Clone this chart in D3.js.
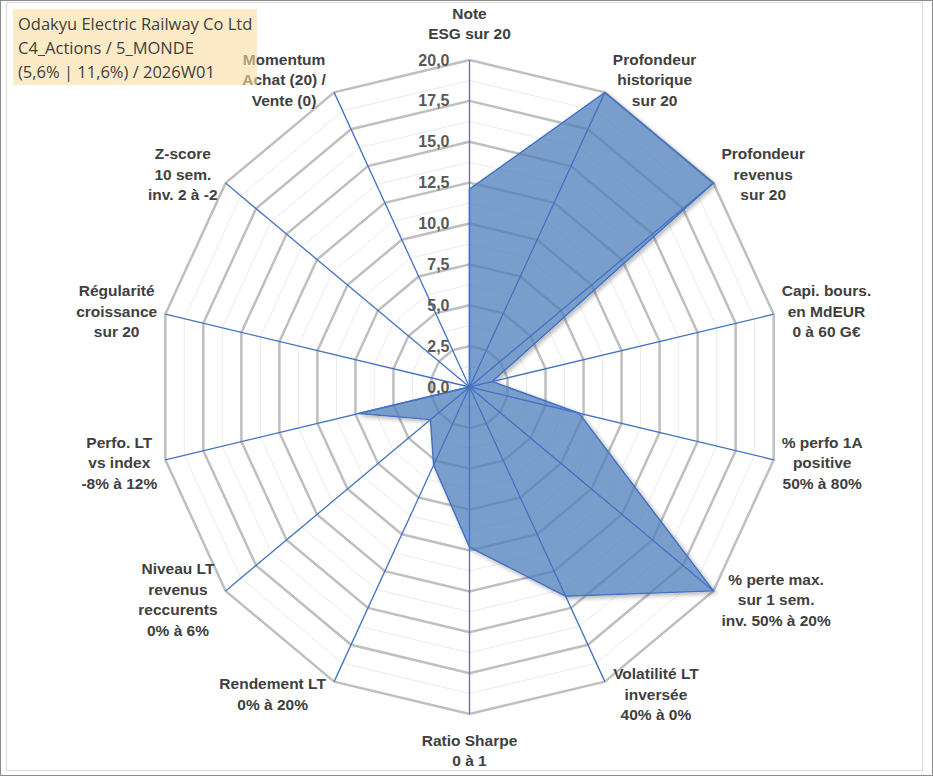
<!DOCTYPE html>
<html>
<head>
<meta charset="utf-8">
<script src="https://cdn.jsdelivr.net/npm/d3@7"></script>
<style>
  html, body { margin: 0; padding: 0; background: #fff; }
  svg { display: block; }
  .axis-label { font-family: "Liberation Sans", Arial, sans-serif; font-weight: bold; font-size: 15.5px; fill: #404040; }
  .tick-label { font-family: "Liberation Sans", Arial, sans-serif; font-weight: bold; font-size: 16px; fill: #595959; }
  .title-text { font-family: "Open Sans", sans-serif; font-size: 16.5px; fill: #404040; }
</style>
</head>
<body>
<div id="visualization"></div>
<script>
// axis names, clockwise from the top
const axisNames = [
  ['Note', 'ESG sur 20'],
  ['Profondeur', 'historique', 'sur 20'],
  ['Profondeur', 'revenus', 'sur 20'],
  ['Capi. bours.', 'en MdEUR', '0 à 60 G€'],
  ['% perfo 1A', 'positive', '50% à 80%'],
  ['% perte max.', 'sur 1 sem.', 'inv. 50% à 20%'],
  ['Volatilité LT', 'inversée', '40% à 0%'],
  ['Ratio Sharpe', '0 à 1'],
  ['Rendement LT', '0% à 20%'],
  ['Niveau LT', 'revenus', 'reccurents', '0% à 6%'],
  ['Perfo. LT', 'vs index', '-8% à 12%'],
  ['Régularité', 'croissance', 'sur 20'],
  ['Z-score', '10 sem.', 'inv. 2 à -2'],
  ['Momentum', 'Achat (20) /', 'Vente (0)']
];

// scores (0-20)
const scores = [12.1, 20, 20, 1.5, 7.2, 20, 14.2, 9.8, 5.3, 3.2, 7.3, 0, 0, 0];

const tickValues = [0, 2.5, 5, 7.5, 10, 12.5, 15, 17.5, 20];
const minorValues = [1.25, 3.75, 6.25, 8.75, 11.25, 13.75, 16.25, 18.75];

const titleLines = ['Odakyu Electric Railway Co Ltd', 'C4_Actions / 5_MONDE', '(5,6% | 11,6%) / 2026W01'];

const width = 933, height = 776;
const cx = 469.5, cy = 387;
const n = axisNames.length;

// the plot is a little narrower than tall
const rX = d3.scaleLinear().domain([0, 20]).range([0, 312]);
const rY = d3.scaleLinear().domain([0, 20]).range([0, 327]);
const angle = d3.scaleLinear().domain([0, n]).range([0, 2 * Math.PI]);

function pt(i, v) {
  const a = angle(i);
  return [cx + rX(v) * Math.sin(a), cy - rY(v) * Math.cos(a)];
}

const svg = d3.select('#visualization')
  .append('svg')
  .attr('width', width)
  .attr('height', height);

// shadow only outside the shape so the translucent fill isn't darkened
const f = svg.append('defs').append('filter')
  .attr('id', 'shadow')
  .attr('x', '-10%').attr('y', '-10%').attr('width', '130%').attr('height', '130%');
f.append('feGaussianBlur').attr('in', 'SourceAlpha').attr('stdDeviation', 2).attr('result', 'blur');
f.append('feOffset').attr('in', 'blur').attr('dx', 2).attr('dy', 2).attr('result', 'off');
f.append('feComposite').attr('in', 'off').attr('in2', 'SourceAlpha').attr('operator', 'out').attr('result', 'outer');
f.append('feColorMatrix').attr('in', 'outer').attr('type', 'matrix')
  .attr('values', '0 0 0 0 0  0 0 0 0 0  0 0 0 0 0  0 0 0 0.35 0').attr('result', 'sh');
const merge = f.append('feMerge');
merge.append('feMergeNode').attr('in', 'sh');
merge.append('feMergeNode').attr('in', 'SourceGraphic');

// frames
svg.append('rect')
  .attr('x', 0.5).attr('y', 0.5).attr('width', width - 1).attr('height', height - 1)
  .attr('fill', '#fff').attr('stroke', '#8c8c8c');
svg.append('rect')
  .attr('x', 6.5).attr('y', 2.5).attr('width', 916).attr('height', 768)
  .attr('fill', 'none').attr('stroke', '#d9d9d9');

const ring = v => d3.range(n + 1).map(i => pt(i % n, v));
const line = d3.line();

// grid
svg.append('g').selectAll('path')
  .data(minorValues)
  .join('path')
  .attr('d', v => line(ring(v)))
  .attr('fill', 'none')
  .attr('stroke', '#ebebeb')
  .attr('stroke-width', 1);

svg.append('g').selectAll('path')
  .data(tickValues.filter(v => v > 0))
  .join('path')
  .attr('d', v => line(ring(v)))
  .attr('fill', 'none')
  .attr('stroke', '#bfbfbf')
  .attr('stroke-width', 2.5)
  .attr('stroke-linejoin', 'miter');

// series area
svg.append('path')
  .datum(scores)
  .attr('d', d => line(d.map((v, i) => pt(i, v))) + 'Z')
  .attr('fill', '#4f80bb')
  .attr('fill-opacity', 0.74)
  .attr('stroke', '#4472c4')
  .attr('stroke-width', 1.5)
  .attr('filter', 'url(#shadow)');

// spokes
svg.append('g').selectAll('line')
  .data(axisNames)
  .join('line')
  .attr('x1', cx).attr('y1', cy)
  .attr('x2', (d, i) => pt(i, 20)[0])
  .attr('y2', (d, i) => pt(i, 20)[1])
  .attr('stroke', '#4472c4')
  .attr('stroke-width', 1.3);

// tick labels
const fmt = v => d3.format('.1f')(v).replace('.', ',');
svg.append('g').selectAll('text')
  .data(tickValues)
  .join('text')
  .attr('class', 'tick-label')
  .attr('x', cx - 20)
  .attr('y', v => cy - rY(v))
  .attr('dy', '0.35em')
  .attr('text-anchor', 'end')
  .text(fmt);

// axis labels, placed beside the outer vertex
const lineH = 20.5;
const labels = svg.append('g').selectAll('g')
  .data(axisNames)
  .join('g');

labels.each(function(lines, i) {
  const g = d3.select(this);
  const t = g.append('text').attr('class', 'axis-label').attr('text-anchor', 'middle');
  lines.forEach((s, k) => {
    t.append('tspan')
      .attr('x', 0)
      .attr('y', (k - (lines.length - 1) / 2) * lineH)
      .attr('dy', '0.35em')
      .text(s);
  });
  const box = t.node().getBBox();
  const a = angle(i);
  const s = Math.sin(a), c = Math.cos(a);
  const [vx, vy] = pt(i, 20);
  let dx, dy;
  if (Math.abs(s) < 0.01) {
    dx = 0;
    dy = -c * (lines.length * lineH / 2 + 16);
  } else {
    dx = Math.sign(s) * (box.width / 2 + 8);
    dy = -c * 14;
  }
  g.attr('transform', `translate(${vx + dx},${vy + dy})`);
});

// title box
svg.append('rect')
  .attr('x', 13).attr('y', 9).attr('width', 244).attr('height', 76)
  .attr('fill', 'rgb(252,222,163)')
  .attr('fill-opacity', 0.6);

svg.append('g').selectAll('text')
  .data(titleLines)
  .join('text')
  .attr('class', 'title-text')
  .attr('x', 18)
  .attr('y', (d, i) => 24 + i * 24)
  .attr('dy', '0.35em')
  .text(d => d);
</script>
</body>
</html>
